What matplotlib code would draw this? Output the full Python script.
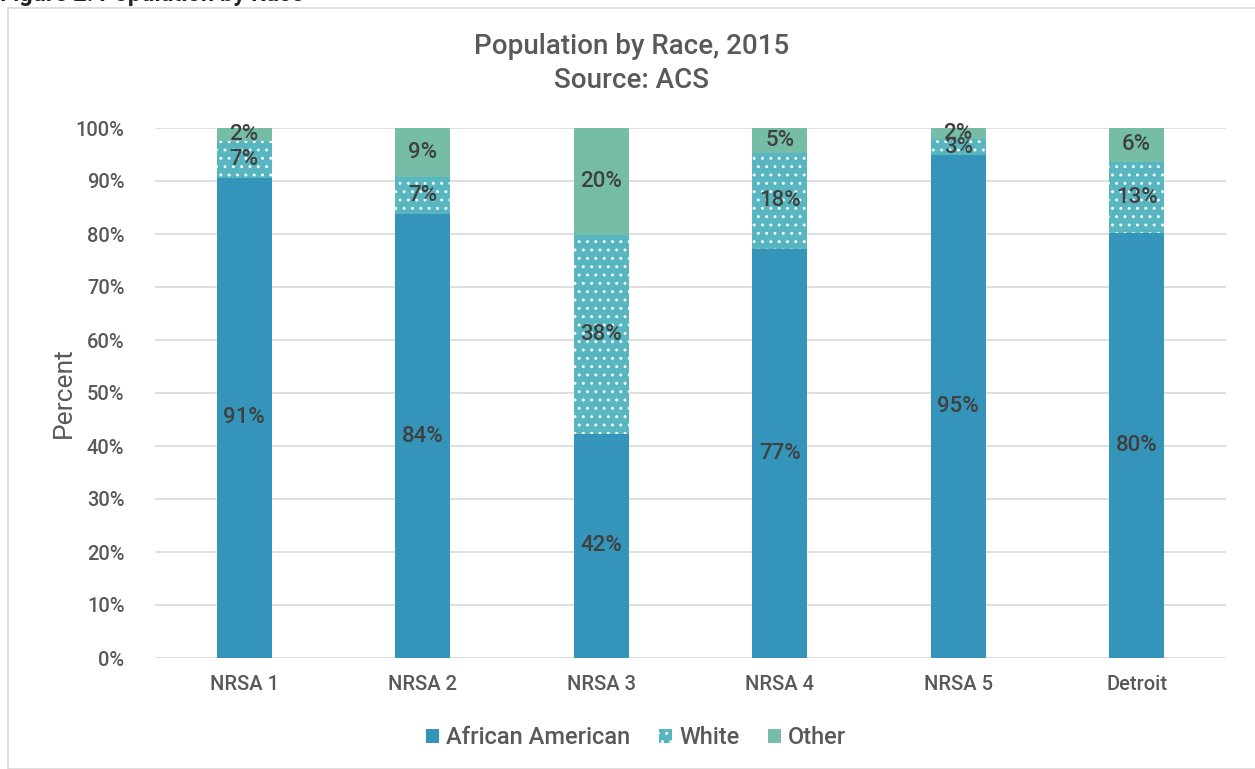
import matplotlib.pyplot as plt
import matplotlib.patches as mpatches
import numpy as np

plt.rcParams['font.family'] = ['Roboto', 'DejaVu Sans']
plt.rcParams['font.weight'] = 'medium'
plt.rcParams['hatch.linewidth'] = 0.9

# data (percent)
areas = ['NRSA 1', 'NRSA 2', 'NRSA 3', 'NRSA 4', 'NRSA 5', 'Detroit']
african_american = [90.6, 83.7, 42.3, 77.2, 94.9, 80.2]
white = [7.0, 7.1, 37.6, 18.1, 3.0, 13.4]
other = [2.4, 9.2, 20.1, 4.7, 2.1, 6.4]
yticks = [0, 10, 20, 30, 40, 50, 60, 70, 80, 90, 100]

c_aa = '#3494ba'
c_white = '#58b6c0'
c_other = '#75bda7'
txt = '#595959'
lbl = '#404040'

fig = plt.figure(figsize=(12.55, 7.69), dpi=100)
ax = fig.add_axes([155/1255, 1-658/769, (1226-155)/1255, (658-128)/769])

# chart frame and cut-off heading
fig.patches.append(mpatches.Rectangle((8/1255, 0), 1.0, 1-8/769, transform=fig.transFigure,
                                      fill=False, edgecolor='#d9d9d9', linewidth=1.2))
fig.text(0.0, 1-1/769, 'Figure 2: Population by Race', fontsize=17, fontweight='bold',
         color='#222222', ha='left', va='baseline')

x = np.arange(len(areas))
w = 0.31
aa = np.array(african_american)
wh = np.array(white)
ot = np.array(other)

b1 = ax.bar(x, aa, w, color=c_aa, linewidth=0, zorder=3, label='African American')
b2 = ax.bar(x, wh, w, bottom=aa, color=c_white, edgecolor='white', hatch='..',
            linewidth=0, zorder=3, label='White')
b3 = ax.bar(x, ot, w, bottom=aa+wh, color=c_other, linewidth=0, zorder=3, label='Other')

for bars, vals, bottoms in [(b1, aa, np.zeros(len(aa))), (b2, wh, aa), (b3, ot, aa+wh)]:
    for i, v in enumerate(vals):
        ax.text(x[i], bottoms[i] + v/2, '%d%%' % round(v), ha='center', va='center',
                fontsize=16, color=lbl, zorder=5)

ax.set_xlim(-0.5, len(areas)-0.5)
ax.set_ylim(0, 100)
ax.set_yticks(yticks)
ax.set_yticklabels(['%d%%' % t for t in yticks])
ax.set_xticks(x)
ax.set_xticklabels(areas)
ax.tick_params(axis='both', length=0, labelsize=14.5, labelcolor=txt)
ax.tick_params(axis='y', pad=22)
ax.tick_params(axis='x', pad=12)
ax.grid(axis='y', color='#d9d9d9', linewidth=1.2, zorder=0)
for s in ax.spines.values():
    s.set_visible(False)
ax.set_ylabel('Percent', fontsize=19, color=txt, labelpad=0)

fig.text(632/1255, 1-47/769, 'Population by Race, 2015', ha='center', va='center',
         fontsize=20, color=txt)
fig.text(632/1255, 1-80/769, 'Source: ACS', ha='center', va='center',
         fontsize=20, color=txt)

fig.legend(handles=[b1, b2, b3], loc='center', bbox_to_anchor=(636/1255, 1-738/769),
           ncol=3, frameon=False, fontsize=17, handlelength=0.55, handleheight=0.55,
           handletextpad=0.3, columnspacing=1.2, labelcolor=txt)

fig.savefig('out.png', dpi=100)
